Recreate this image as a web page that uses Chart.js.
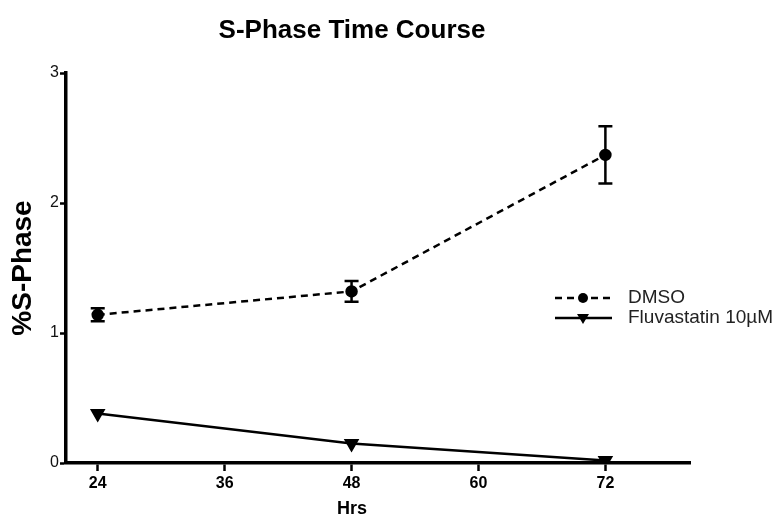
<!DOCTYPE html>
<html>
<head>
<meta charset="utf-8">
<script src="https://cdn.jsdelivr.net/npm/chart.js@4.4.1/dist/chart.umd.min.js"></script>
<style>
  html, body { margin: 0; padding: 0; background: #fff; }
  #wrap { width: 783px; height: 529px; position: relative; }
</style>
</head>
<body>
<div id="wrap"><canvas id="chart"></canvas></div>
<script>
// data
var hours = [24, 48, 72];
var xTicks = [24, 36, 48, 60, 72];
var yTicks = [0, 1, 2, 3];
var dmso = [1.14, 1.32, 2.37];
var dmsoErr = [0.05, 0.08, 0.22];
var fluva = [0.38, 0.15, 0.02];
var fluvaErr = [0.01, 0.01, 0.01];
var labels = ['DMSO', 'Fluvastatin 10\u00b5M'];

var FONT = "'Liberation Sans', Arial, sans-serif";

function pts(ys) {
    return hours.map(function (h, i) { return { x: h, y: ys[i] }; });
}

// error bars, drawn through the chart's scales
var errorBars = {
    id: 'errorBars',
    afterDatasetsDraw: function (chart) {
        var ctx = chart.ctx, xs = chart.scales.x, ys = chart.scales.y;
        chart.data.datasets.forEach(function (ds) {
            if (!ds.errors) return;
            ctx.save();
            ctx.strokeStyle = '#000';
            ctx.lineWidth = 2.5;
            ds.data.forEach(function (p, i) {
                var e = ds.errors[i];
                var px = xs.getPixelForValue(p.x);
                var top = ys.getPixelForValue(p.y + e);
                var bot = ys.getPixelForValue(p.y - e);
                if (bot - top < 4) return;
                ctx.beginPath();
                ctx.moveTo(px, top); ctx.lineTo(px, bot);
                ctx.moveTo(px - 7, top); ctx.lineTo(px + 7, top);
                ctx.moveTo(px - 7, bot); ctx.lineTo(px + 7, bot);
                ctx.stroke();
            });
            ctx.restore();
        });
    }
};

// title, x axis title and legend
var extras = {
    id: 'extras',
    afterDraw: function (chart) {
        var ctx = chart.ctx;
        ctx.save();
        ctx.fillStyle = '#000';
        ctx.textAlign = 'center';
        ctx.textBaseline = 'middle';
        ctx.font = 'bold 26px ' + FONT;
        ctx.fillText('S-Phase Time Course', 352, 31);
        ctx.font = 'bold 18px ' + FONT;
        ctx.fillText('Hrs', 352, 509);

        // legend
        var lx = 555, ly = [298, 318];
        chart.data.datasets.forEach(function (ds, i) {
            var y = ly[i];
            ctx.strokeStyle = '#000';
            ctx.lineWidth = 2.5;
            ctx.setLineDash(ds.borderDash || []);
            ctx.beginPath();
            ctx.moveTo(lx, y); ctx.lineTo(lx + 57, y);
            ctx.stroke();
            ctx.setLineDash([]);
            ctx.fillStyle = '#000';
            var cx = lx + 28;
            ctx.beginPath();
            if (ds.pointStyle === 'triangle') {
                ctx.moveTo(cx - 6, y - 4); ctx.lineTo(cx + 6, y - 4); ctx.lineTo(cx, y + 6);
                ctx.closePath();
            } else {
                ctx.arc(cx, y, 5, 0, Math.PI * 2);
            }
            ctx.fill();
            ctx.fillStyle = '#222';
            ctx.font = '19px ' + FONT;
            ctx.textAlign = 'left';
            ctx.fillText(ds.label, lx + 73, y);
        });
        ctx.restore();
    }
};

new Chart(document.getElementById('chart'), {
    type: 'line',
    data: {
        datasets: [{
            label: labels[0],
            data: pts(dmso),
            errors: dmsoErr,
            borderColor: '#000',
            backgroundColor: '#000',
            borderWidth: 2.5,
            borderDash: [7, 5],
            pointStyle: 'circle',
            pointRadius: 5,
            pointHoverRadius: 5,
            fill: false
        }, {
            label: labels[1],
            data: pts(fluva),
            errors: fluvaErr,
            borderColor: '#000',
            backgroundColor: '#000',
            borderWidth: 2.5,
            pointStyle: 'triangle',
            rotation: 180,
            pointRadius: 6.5,
            pointHoverRadius: 6.5,
            fill: false
        }]
    },
    options: {
        responsive: true,
        maintainAspectRatio: false,
        animation: false,
        events: [],
        layout: { padding: { left: 0, right: 93, top: 73, bottom: 0 } },
        plugins: {
            legend: { display: false },
            title: { display: false },
            tooltip: { enabled: false }
        },
        scales: {
            x: {
                type: 'linear',
                min: 21,
                max: 80,
                afterFit: function (s) { s.height = 66; },
                afterBuildTicks: function (s) {
                    s.ticks = xTicks.map(function (v) { return { value: v }; });
                },
                border: { color: '#000', width: 3.5 },
                grid: { drawOnChartArea: false, color: '#000', tickLength: 8, tickWidth: 2.5 },
                ticks: {
                    color: '#000',
                    padding: 3,
                    font: { family: FONT, size: 16, weight: 'bold' }
                }
            },
            y: {
                min: 0,
                max: 3,
                afterFit: function (s) { s.width = 66; },
                afterBuildTicks: function (s) {
                    s.ticks = yTicks.map(function (v) { return { value: v }; });
                },
                border: { color: '#000', width: 3.5 },
                grid: { drawOnChartArea: false, color: '#000', tickLength: 6, tickWidth: 2.5 },
                ticks: {
                    color: '#111',
                    padding: 1,
                    font: { family: FONT, size: 16 }
                },
                title: {
                    display: true,
                    text: '%S-Phase',
                    color: '#000',
                    padding: { top: 6, bottom: 0 },
                    font: { family: FONT, size: 28, weight: 'bold' }
                }
            }
        }
    },
    plugins: [errorBars, extras]
});
</script>
</body>
</html>
